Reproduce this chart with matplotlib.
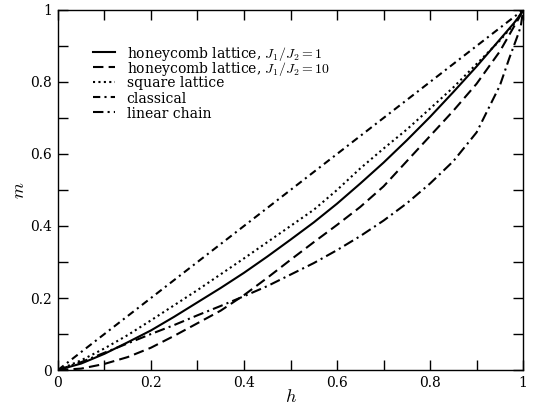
import numpy as np
import matplotlib
matplotlib.use('Agg')
import matplotlib.pyplot as plt
from matplotlib.ticker import MultipleLocator

plt.rcParams['font.family'] = 'serif'
plt.rcParams['font.serif'] = ['DejaVu Serif']
plt.rcParams['mathtext.fontset'] = 'cm'

h = [0.0, 0.05, 0.1, 0.15, 0.2, 0.25, 0.3, 0.35, 0.4, 0.45, 0.5, 0.55,
     0.6, 0.65, 0.7, 0.75, 0.8, 0.85, 0.9, 0.95, 0.98, 0.99, 1.0]

# magnetization m(h)
honeycomb_j1 = [0.0, 0.018, 0.045, 0.077, 0.11, 0.148, 0.188, 0.228, 0.27,
                0.315, 0.362, 0.41, 0.462, 0.518, 0.576, 0.638, 0.703,
                0.772, 0.843, 0.918, 0.963, 0.98, 1.0]
honeycomb_j10 = [0.0, 0.004, 0.017, 0.036, 0.062, 0.095, 0.13, 0.165, 0.208,
                 0.256, 0.306, 0.355, 0.403, 0.453, 0.51, 0.58, 0.65, 0.72,
                 0.795, 0.885, 0.953, 0.975, 1.0]
square = [0.0, 0.027, 0.06, 0.097, 0.138, 0.18, 0.222, 0.266, 0.31, 0.355,
          0.4, 0.445, 0.5, 0.56, 0.615, 0.668, 0.726, 0.785, 0.85, 0.915,
          0.96, 0.978, 1.0]
classical = [0.0, 0.05, 0.1, 0.15, 0.2, 0.25, 0.3, 0.35, 0.4, 0.45, 0.5,
             0.55, 0.6, 0.65, 0.7, 0.75, 0.8, 0.85, 0.9, 0.95, 0.98, 0.99, 1.0]
h_chain = [0.0, 0.05, 0.1, 0.15, 0.2, 0.25, 0.3, 0.35, 0.4, 0.45, 0.5, 0.55,
           0.6, 0.65, 0.7, 0.75, 0.8, 0.85, 0.9, 0.95, 0.97, 0.98, 0.99,
           0.995, 1.0]
linear_chain = [0.0, 0.022, 0.048, 0.074, 0.1, 0.125, 0.152, 0.178, 0.205,
                0.233, 0.265, 0.297, 0.333, 0.372, 0.415, 0.463, 0.518, 0.58,
                0.66, 0.79, 0.865, 0.9, 0.935, 0.955, 1.0]

labels = [r'honeycomb lattice, $J_1/J_2 = 1$',
          r'honeycomb lattice, $J_1/J_2 = 10$',
          'square lattice', 'classical', 'linear chain']
styles = ['-', (0, (5, 2.5)), (0, (1, 1.6)), (0, (3.5, 2, 1, 2)),
          (0, (5, 2, 1, 2))]

fig = plt.figure(figsize=(5.36, 4.13), dpi=100)
ax = fig.add_axes([0.108, 0.104, 0.868, 0.872])

lw = 1.5
series = [(h, honeycomb_j1), (h, honeycomb_j10), (h, square), (h, classical),
          (h_chain, linear_chain)]
for (xs, ys), ls in zip(series, styles):
    ax.plot(xs, ys, color='black', lw=lw, ls=ls)

# compact hand-placed legend (rows are tighter than ax.legend allows)
leg_x0, leg_x1, leg_tx = 0.075, 0.123, 0.148
leg_y0, leg_dy = 0.884, 0.042
for i, (lab, ls) in enumerate(zip(labels, styles)):
    yy = leg_y0 - i * leg_dy
    ax.plot([leg_x0, leg_x1], [yy, yy], transform=ax.transAxes,
            color='black', lw=lw, ls=ls, clip_on=False)
    ax.text(leg_tx, yy, lab, transform=ax.transAxes, fontsize=10,
            va='center_baseline', ha='left')

ax.set_xlim(0, 1)
ax.set_ylim(0, 1)
ax.set_xticks([0, 0.2, 0.4, 0.6, 0.8, 1.0])
ax.set_xticklabels(['0', '0.2', '0.4', '0.6', '0.8', '1'])
ax.set_yticks([0, 0.2, 0.4, 0.6, 0.8, 1.0])
ax.set_yticklabels(['0', '0.2', '0.4', '0.6', '0.8', '1'])
ax.xaxis.set_minor_locator(MultipleLocator(0.1))
ax.yaxis.set_minor_locator(MultipleLocator(0.1))
ax.tick_params(which='both', direction='in', top=True, right=True,
               length=7, width=1, labelsize=10, pad=4)
for s in ax.spines.values():
    s.set_linewidth(1)

ax.set_xlabel('$h$', fontsize=13, labelpad=-1)
ax.set_ylabel('$m$', fontsize=13, labelpad=2)

fig.savefig('out.png', dpi=100)
